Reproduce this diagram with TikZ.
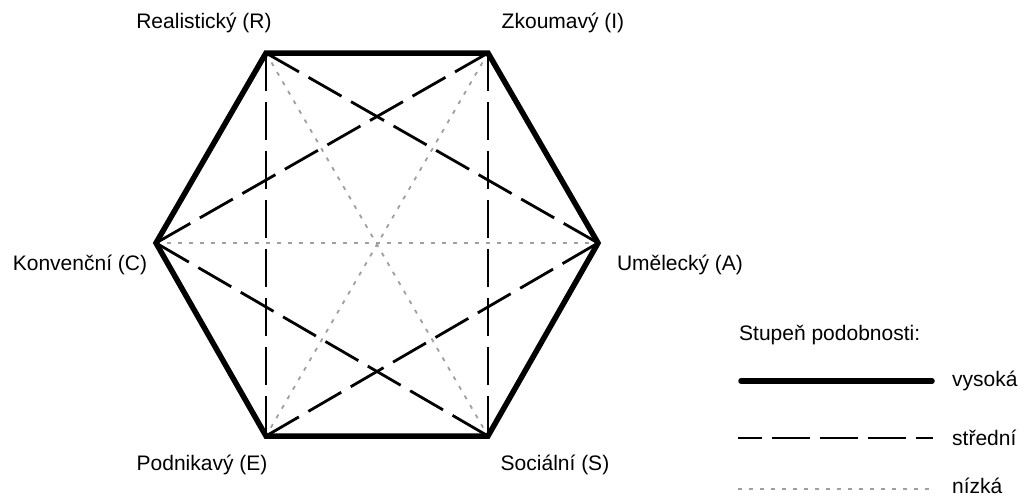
\documentclass[tikz,border=0pt]{standalone}
\usepackage{fontspec}
\setmainfont{Liberation Sans}
\begin{document}
\begin{tikzpicture}[x=1pt,y=-1pt,
  lbl/.style={font=\fontsize{21}{25}\selectfont, inner sep=0pt},
  high/.style={line width=5.5pt, line join=miter},
  mid/.style={line width=2.8pt, dash pattern=on 38pt off 11pt},
  low/.style={line width=1.8pt, gray!75, dash pattern=on 4pt off 7pt}]
\useasboundingbox (0,0) rectangle (1023,498);
\coordinate (R) at (266,53);
\coordinate (I) at (488,53);
\coordinate (A) at (598,243);
\coordinate (S) at (488,436);
\coordinate (E) at (266,436);
\coordinate (C) at (156,243);
% low
\draw[low] (R) -- (S);
\draw[low] (I) -- (E);
\draw[low] (C) -- (A);
% medium
\draw[mid] (R) -- (E);
\draw[mid] (I) -- (S);
\draw[mid] (R) -- (A);
\draw[mid] (I) -- (C);
\draw[mid] (C) -- (S);
\draw[mid] (E) -- (A);
% high
\draw[high] (R) -- (I) -- (A) -- (S) -- (E) -- (C) -- cycle;
% labels
\node[lbl] (tR) at (204,23) {Realistický (R)};
\node[lbl] (tI) at (563,23) {Zkoumavý (I)};
\node[lbl] (tC) at (80,265) {Konvenční (C)};
\node[lbl] (tA) at (680,265) {Umělecký (A)};
\node[lbl] (tE) at (202,465) {Podnikavý (E)};
\node[lbl] (tS) at (555,465) {Sociální (S)};
% legend
\node[lbl, anchor=west] (lt) at (739,335) {Stupeň podobnosti:};
\coordinate (h1) at (741,381); \coordinate (h2) at (932,381);
\coordinate (m1) at (738,438); \coordinate (m2) at (933,438);
\coordinate (l1) at (738,489); \coordinate (l2) at (933,489);
\draw[high, line cap=round] (h1) -- (h2);
\draw[mid, dash pattern=on 24pt off 10pt on 38pt off 10pt on 38pt off 10pt on 38pt off 10pt on 38pt off 10pt] (m1) -- (m2);
\draw[low] (l1) -- (l2);
\node[lbl, anchor=west] (lh) at (952,381) {vysoká};
\node[lbl, anchor=west] (lm) at (952,438) {střední};
\node[lbl, anchor=west] (ll) at (952,486) {nízká};
\end{tikzpicture}
\end{document}
